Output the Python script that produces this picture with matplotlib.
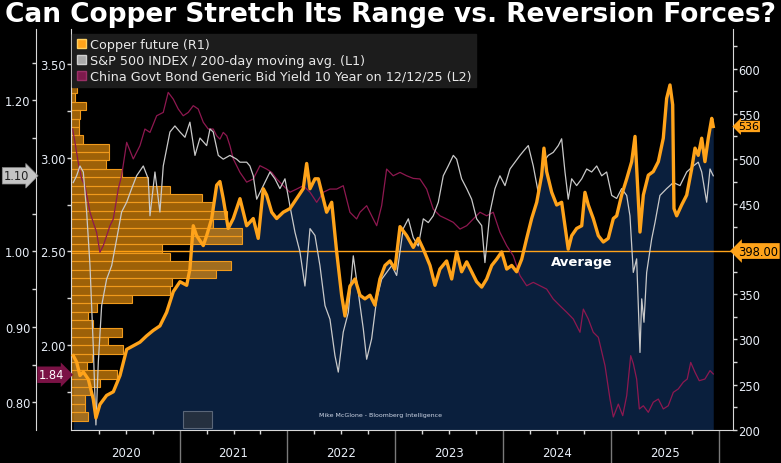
import matplotlib
matplotlib.use('Agg')
import matplotlib.pyplot as plt
import matplotlib.transforms as mtrans
from matplotlib.patches import Patch, Rectangle
from matplotlib.ticker import MultipleLocator, FuncFormatter, FixedLocator
import numpy as np

# ---- data (decimal years) ----
cu_t = [2020.015, 2020.046, 2020.077, 2020.108, 2020.154, 2020.200, 2020.225, 2020.262, 2020.324, 2020.386,
        2020.448, 2020.510, 2020.571, 2020.633, 2020.695, 2020.756, 2020.818, 2020.880, 2020.942,
        2021.004, 2021.066, 2021.096, 2021.127, 2021.158, 2021.220, 2021.251, 2021.298, 2021.344, 2021.374,
        2021.405, 2021.451, 2021.498, 2021.560, 2021.622, 2021.683, 2021.729, 2021.776, 2021.807, 2021.854,
        2021.900, 2021.961,
        2022.023, 2022.085, 2022.146, 2022.178, 2022.209, 2022.255, 2022.286, 2022.317, 2022.363, 2022.410,
        2022.456, 2022.502, 2022.533, 2022.579, 2022.626, 2022.672, 2022.718, 2022.765, 2022.811, 2022.857,
        2022.904, 2022.950, 2022.996,
        2023.043, 2023.105, 2023.166, 2023.212, 2023.259, 2023.321, 2023.367, 2023.413, 2023.475, 2023.522,
        2023.568, 2023.614, 2023.661, 2023.707, 2023.753, 2023.800, 2023.846, 2023.893, 2023.939, 2023.985,
        2024.032, 2024.078, 2024.124, 2024.171, 2024.217, 2024.263, 2024.310, 2024.356, 2024.377, 2024.402,
        2024.449, 2024.495, 2024.541, 2024.572, 2024.602, 2024.634, 2024.680, 2024.727, 2024.757, 2024.788,
        2024.834, 2024.881, 2024.927, 2024.973,
        2025.020, 2025.051, 2025.097, 2025.144, 2025.190, 2025.221, 2025.267, 2025.298, 2025.344, 2025.390,
        2025.437, 2025.483, 2025.514, 2025.545, 2025.570, 2025.582, 2025.607, 2025.653, 2025.700, 2025.746,
        2025.777, 2025.807, 2025.839, 2025.869, 2025.900, 2025.932, 2025.946]
cu_v = [282, 275, 260, 264, 256, 234, 213, 228, 238, 242, 260, 289, 293, 297, 304, 310, 315, 330, 353,
        364, 360, 378, 426, 415, 404, 415, 434, 471, 475, 456, 423, 434, 456, 426, 434, 412, 467, 460, 441,
        434, 441,
        445, 456, 467, 495, 467, 478, 478, 463, 441, 452, 397, 349, 326, 359, 367, 349, 345, 349, 338, 367,
        382, 387, 378,
        425, 415, 402, 412, 400, 382, 360, 378, 387, 367, 397, 375, 386, 375, 364, 358, 367, 382, 389, 397,
        378, 382, 375, 389, 412, 434, 452, 482, 512, 486, 463, 449, 452, 426, 400, 415, 423, 426, 463, 449,
        434, 415, 408, 412,
        434, 437, 460, 478, 497, 525, 419, 460, 482, 486, 497, 523, 567, 582, 560, 445, 437, 449, 460, 489,
        512, 504, 523, 497, 523, 545, 536]

sp_t = [2020.015, 2020.046, 2020.077, 2020.108, 2020.139, 2020.170, 2020.200, 2020.216, 2020.225, 2020.247,
        2020.278, 2020.324, 2020.371, 2020.417, 2020.463, 2020.510, 2020.556, 2020.602, 2020.664, 2020.710,
        2020.726, 2020.772, 2020.818, 2020.849, 2020.911, 2020.957,
        2021.004, 2021.050, 2021.096, 2021.143, 2021.189, 2021.251, 2021.282, 2021.312, 2021.359, 2021.405,
        2021.467, 2021.529, 2021.560, 2021.622, 2021.652, 2021.683, 2021.715, 2021.776, 2021.838, 2021.884,
        2021.930, 2021.977,
        2022.023, 2022.070, 2022.116, 2022.162, 2022.209, 2022.255, 2022.301, 2022.348, 2022.394, 2022.440,
        2022.471, 2022.517, 2022.564, 2022.610, 2022.656, 2022.703, 2022.734, 2022.780, 2022.827, 2022.873,
        2022.919, 2022.966,
        2023.012, 2023.073, 2023.120, 2023.166, 2023.212, 2023.259, 2023.305, 2023.351, 2023.398, 2023.444,
        2023.490, 2023.537, 2023.568, 2023.614, 2023.661, 2023.707, 2023.753, 2023.800, 2023.830, 2023.877,
        2023.923, 2023.969,
        2024.016, 2024.062, 2024.109, 2024.155, 2024.201, 2024.232, 2024.278, 2024.324, 2024.371, 2024.417,
        2024.463, 2024.510, 2024.541, 2024.572, 2024.602, 2024.634, 2024.680, 2024.727, 2024.773, 2024.819,
        2024.866, 2024.912, 2024.958,
        2025.005, 2025.051, 2025.097, 2025.144, 2025.174, 2025.205, 2025.236, 2025.251, 2025.267, 2025.283,
        2025.304, 2025.329, 2025.375, 2025.406, 2025.452, 2025.514, 2025.576, 2025.638, 2025.700, 2025.761,
        2025.807, 2025.839, 2025.885, 2025.916, 2025.946]
sp_v = [1.091, 1.100, 1.113, 1.105, 1.052, 0.981, 0.875, 0.809, 0.770, 0.853,
        0.928, 0.963, 0.981, 1.016, 1.052, 1.065, 1.083, 1.100, 1.113, 1.096,
        1.047, 1.105, 1.052, 1.113, 1.158, 1.166,
        1.158, 1.151, 1.171, 1.127, 1.150, 1.140, 1.162, 1.158, 1.127, 1.122,
        1.127, 1.122, 1.118, 1.118, 1.113, 1.100, 1.069, 1.087, 1.105, 1.096,
        1.083, 1.096,
        1.060, 1.025, 0.999, 0.954, 1.030, 1.021, 0.981, 0.928, 0.910, 0.862,
        0.840, 0.893, 0.919, 0.994, 0.946, 0.897, 0.857, 0.884, 0.937, 0.963,
        0.972, 0.981,
        0.968, 1.030, 1.043, 1.018, 1.007, 1.043, 1.038, 1.047, 1.065, 1.100,
        1.113, 1.127, 1.122, 1.096, 1.083, 1.069, 1.043, 1.034, 0.985, 1.052,
        1.083, 1.100,
        1.087, 1.109, 1.118, 1.127, 1.135, 1.140, 1.113, 1.078, 1.118, 1.127,
        1.131, 1.140, 1.149, 1.105, 1.069, 1.096, 1.087, 1.096, 1.109, 1.105,
        1.113, 1.100, 1.105,
        1.074, 1.070, 1.083, 1.074, 1.047, 0.972, 0.990, 0.928, 0.866, 0.937,
        0.906, 0.972, 1.016, 1.038, 1.074, 1.083, 1.091, 1.087, 1.105, 1.113,
        1.118, 1.105, 1.065, 1.109, 1.100]

cn_t = [2020.009, 2020.031, 2020.061, 2020.093, 2020.123, 2020.170, 2020.200, 2020.231, 2020.262, 2020.293,
        2020.324, 2020.355, 2020.386, 2020.432, 2020.463, 2020.510, 2020.571, 2020.633, 2020.679, 2020.726,
        2020.788, 2020.849, 2020.895, 2020.942, 2020.988,
        2021.034, 2021.081, 2021.127, 2021.173, 2021.220, 2021.266, 2021.312, 2021.344, 2021.374, 2021.405,
        2021.437, 2021.467, 2021.498, 2021.560, 2021.622, 2021.683, 2021.745, 2021.807, 2021.854, 2021.900,
        2021.961,
        2022.023, 2022.085, 2022.146, 2022.209, 2022.271, 2022.332, 2022.394, 2022.456, 2022.517, 2022.579,
        2022.641, 2022.672, 2022.734, 2022.795, 2022.827, 2022.873, 2022.919, 2022.980,
        2023.043, 2023.105, 2023.166, 2023.228, 2023.290, 2023.351, 2023.413, 2023.475, 2023.537, 2023.599,
        2023.661, 2023.722, 2023.784, 2023.846, 2023.907, 2023.969,
        2024.032, 2024.093, 2024.155, 2024.217, 2024.278, 2024.340, 2024.402, 2024.463, 2024.525, 2024.588,
        2024.649, 2024.711, 2024.742, 2024.788, 2024.834, 2024.881, 2024.943, 2024.989,
        2025.020, 2025.066, 2025.107, 2025.144, 2025.181, 2025.205, 2025.236, 2025.261, 2025.298, 2025.344,
        2025.390, 2025.437, 2025.483, 2025.529, 2025.576, 2025.622, 2025.668, 2025.705, 2025.737, 2025.777,
        2025.816, 2025.869, 2025.916, 2025.946]
cn_v = [3.154, 3.083, 2.976, 2.887, 2.851, 2.709, 2.655, 2.602, 2.495, 2.530,
        2.583, 2.637, 2.673, 2.833, 2.904, 3.083, 2.994, 3.065, 3.154, 3.136,
        3.225, 3.243, 3.350, 3.314, 3.261,
        3.225, 3.243, 3.279, 3.261, 3.190, 3.154, 3.154, 3.118, 3.100, 3.136,
        3.118, 3.065, 2.994, 2.922, 2.870, 2.887, 2.958, 2.940, 2.922, 2.887,
        2.851,
        2.816, 2.833, 2.851, 2.816, 2.762, 2.816, 2.833, 2.833, 2.851, 2.709,
        2.673, 2.709, 2.744, 2.673, 2.637, 2.744, 2.940, 2.904,
        2.922, 2.904, 2.890, 2.887, 2.833, 2.726, 2.690, 2.673, 2.655, 2.619,
        2.637, 2.673, 2.709, 2.690, 2.709, 2.602,
        2.530, 2.476, 2.370, 2.316, 2.334, 2.316, 2.298, 2.245, 2.209, 2.174,
        2.138, 2.067, 2.191, 2.138, 2.067, 2.040, 1.888, 1.710,
        1.614, 1.683, 1.621, 1.728, 1.942, 1.900, 1.817, 1.657, 1.674, 1.639,
        1.693, 1.710, 1.657, 1.674, 1.746, 1.764, 1.800, 1.817, 1.906, 1.853,
        1.808, 1.817, 1.862, 1.844]

# copper price distribution, low bin -> high bin (days per bin)
hist_lo, hist_hi = 210, 582
hist_counts = [17, 14, 14, 19, 29, 46, 16, 21, 52, 37, 51, 22, 17, 26, 61, 99, 101, 145, 160, 99,
               91, 171, 171, 142, 156, 142, 131, 99, 77, 51, 35, 38, 38, 12, 8, 8, 9, 15, 4, 6]

years = [2020, 2021, 2022, 2023, 2024, 2025]
cu_avg = 398.0
cu_last, sp_last, cn_last = 536, 1.10, 1.84

# ---- style ----
ORANGE = '#ffa31a'
GREY = '#c9c9c9'
MAROON = '#8e1850'
NAVY = '#0a1f3d'
AXC = '#d8d8d8'
TXT = '#e8eef7'
TICKFS = 8.3

W, H = 781, 464
fig = plt.figure(figsize=(W / 100, H / 100), dpi=100, facecolor='black')
rect = [71 / W, 1 - 430.7 / H, 662 / W, 400.7 / H]
XLIM = (2019.994, 2026.129)
CU_LIM = (200, 644)
SP_LIM = (0.7637, 1.2944)
CN_LIM = (1.546, 3.689)


def clean(ax):
    ax.patch.set_visible(False)
    for s in ax.spines.values():
        s.set_visible(False)
    ax.set_xlim(*XLIM)
    ax.set_xticks([])
    ax.set_yticks([])


def skip_fmt(fmt, hidden):
    # labels hidden behind a value flag are left blank
    return FuncFormatter(lambda v, pos: '' if abs(v - hidden) < 1e-6 else fmt % v)


# copper axis (right), fill + average line
ax_cu = fig.add_axes(rect, facecolor='black')
ax_cu.set_xlim(*XLIM)
ax_cu.set_ylim(*CU_LIM)
ax_cu.fill_between(cu_t, cu_v, CU_LIM[0], color=NAVY, lw=0, zorder=1)
ax_cu.axhline(cu_avg, color=ORANGE, lw=1.0, zorder=3)
for side in ['left', 'top']:
    ax_cu.spines[side].set_visible(False)
for side in ['right', 'bottom']:
    ax_cu.spines[side].set_color(AXC)
ax_cu.yaxis.tick_right()
ax_cu.yaxis.set_major_locator(MultipleLocator(50))
ax_cu.yaxis.set_minor_locator(MultipleLocator(25))
ax_cu.yaxis.set_major_formatter(skip_fmt('%d', 400))
ax_cu.tick_params(axis='y', which='both', colors=AXC, labelcolor=TXT, labelsize=TICKFS,
                  length=3, width=1, pad=1)
ax_cu.xaxis.set_major_locator(FixedLocator([y + 1 for y in years]))
ax_cu.xaxis.set_minor_locator(FixedLocator([y + q for y in years for q in (0.25, 0.5, 0.75)]))
ax_cu.tick_params(axis='x', which='major', length=24, color='#7a7a7a', width=1, labelbottom=False)
ax_cu.tick_params(axis='x', which='minor', length=3, color=AXC, width=1)
xlab = mtrans.blended_transform_factory(ax_cu.transData, ax_cu.transAxes)
for y in years:
    ax_cu.text(y + 0.5, -0.056, str(y), transform=xlab, ha='center', va='center',
               fontsize=8.5, color=TXT)

# histogram of copper prices
ax_h = fig.add_axes(rect)
clean(ax_h)
ax_h.set_xlim(0, 662)
ax_h.set_ylim(*CU_LIM)
edges = np.linspace(hist_lo, hist_hi, len(hist_counts) + 1)
ax_h.barh(edges[:-1], hist_counts, height=np.diff(edges), align='edge',
          color=(1.0, 0.62, 0.05, 0.62), edgecolor='#f09a1c', linewidth=0.8)

# China 10Y (L2)
ax_cn = fig.add_axes(rect)
clean(ax_cn)
ax_cn.set_ylim(*CN_LIM)
ax_cn.plot(cn_t, cn_v, color=MAROON, lw=0.9)
ax_cn.spines['left'].set_visible(True)
ax_cn.spines['left'].set_color(AXC)
ax_cn.yaxis.set_major_locator(MultipleLocator(0.5))
ax_cn.yaxis.set_minor_locator(MultipleLocator(0.25))
ax_cn.yaxis.set_major_formatter(FuncFormatter(lambda v, pos: '%.2f' % v))
ax_cn.tick_params(axis='y', which='both', colors=AXC, labelcolor=TXT, labelsize=TICKFS,
                  length=3, width=1, pad=1)

# S&P 500 / 200dma (L1)
ax_sp = fig.add_axes(rect)
clean(ax_sp)
ax_sp.set_ylim(*SP_LIM)
ax_sp.plot(sp_t, sp_v, color=GREY, lw=0.9)
ax_sp.spines['left'].set_visible(True)
ax_sp.spines['left'].set_color(AXC)
ax_sp.spines['left'].set_position(('axes', -35 / 662))
ax_sp.yaxis.set_major_locator(MultipleLocator(0.1))
ax_sp.yaxis.set_minor_locator(MultipleLocator(0.05))
ax_sp.yaxis.set_major_formatter(skip_fmt('%.2f', 1.10))
ax_sp.tick_params(axis='y', which='both', colors=AXC, labelcolor=TXT, labelsize=TICKFS,
                  length=3, width=1, pad=1)

# copper line on top
ax_top = fig.add_axes(rect)
clean(ax_top)
ax_top.set_ylim(*CU_LIM)
ax_top.plot(cu_t, cu_v, color=ORANGE, lw=2.4, solid_joinstyle='round')

# value flags
t_cu = mtrans.blended_transform_factory(ax_top.transAxes, ax_cu.transData)
t_sp = mtrans.blended_transform_factory(ax_top.transAxes, ax_sp.transData)
t_cn = mtrans.blended_transform_factory(ax_top.transAxes, ax_cn.transData)
ax_top.text(1.008, cu_last, '%d' % cu_last, transform=t_cu, ha='left', va='center',
            fontsize=8, color='black', clip_on=False,
            bbox=dict(boxstyle='larrow,pad=0.06', fc=ORANGE, ec='none'))
ax_top.text(1.008, cu_avg, '%.2f' % cu_avg, transform=t_cu, ha='left', va='center',
            fontsize=TICKFS, color='black', clip_on=False,
            bbox=dict(boxstyle='larrow,pad=0.12', fc=ORANGE, ec='none'))
ax_top.text(-35 / 662 - 0.01, sp_last, '%.2f' % sp_last, transform=t_sp, ha='right', va='center',
            fontsize=TICKFS, color='#222222', clip_on=False,
            bbox=dict(boxstyle='rarrow,pad=0.15', fc='#c4c4c4', ec='#888888', lw=0.5))
ax_top.text(-0.01, cn_last, '%.2f' % cn_last, transform=t_cn, ha='right', va='center',
            fontsize=TICKFS, color='white', clip_on=False,
            bbox=dict(boxstyle='rarrow,pad=0.15', fc='#7a1245', ec='none'))

ax_top.text(2024.73, 386, 'Average', ha='center', va='center', fontsize=9.5,
            fontweight='bold', color='white')
ax_top.text(0.467, 0.038, 'Mike McGlone - Bloomberg Intelligence', transform=ax_top.transAxes,
            ha='center', va='center', fontsize=4.5, color='#d0d8e8')
ax_top.add_patch(Rectangle((0.169, 0.003), 0.044, 0.043, transform=ax_top.transAxes,
                           fc='#25303f', ec='#5a6678', lw=0.8))

handles = [Patch(fc=ORANGE, ec='#ffd060', label='Copper future (R1)'),
           Patch(fc='#a9a9a9', ec='#d0d0d0', label='S&P 500 INDEX / 200-day moving avg. (L1)'),
           Patch(fc='#7d1a4c', ec='#9a3066', label='China Govt Bond Generic Bid Yield 10 Year on 12/12/25 (L2)')]
leg = ax_top.legend(handles=handles, loc='upper left', bbox_to_anchor=(0.002, 0.988),
                    frameon=True, facecolor='#1c1c1c', edgecolor='#1c1c1c', framealpha=1,
                    fancybox=False, fontsize=9.2, labelcolor='#e8e8e8', handlelength=0.7,
                    handleheight=0.7, handletextpad=0.3, borderpad=0.35, labelspacing=0.22,
                    borderaxespad=0)

fig.text(0.006, 0.968, 'Can Copper Stretch Its Range vs. Reversion Forces?', ha='left', va='center',
         fontsize=19, fontweight='bold', color='white')

fig.savefig('out.png', dpi=100, facecolor='black')
